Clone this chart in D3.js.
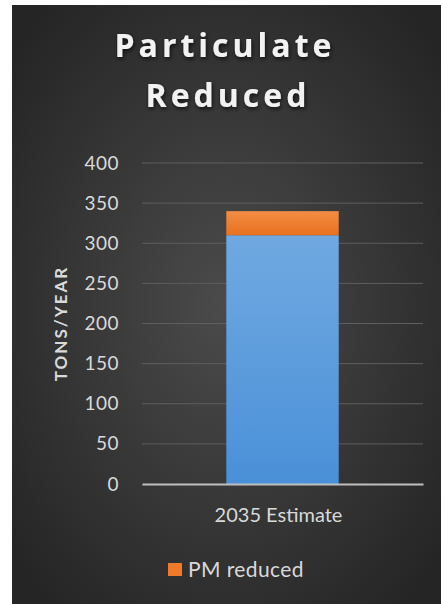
<!DOCTYPE html>
<html lang="en">
<head>
<meta charset="utf-8">
<title>Particulate Reduced</title>
<script src="https://d3js.org/d3.v7.min.js"></script>
<style>
  body { margin: 0; background: #ffffff; }
  text { font-family: Lato, "Open Sans", sans-serif; }
</style>
</head>
<body>
<div id="chart"></div>
<script>
// data
var categories = ["2035 Estimate"];
var baseValues = [310];      // blue part (no legend entry)
var pmReduced = [30];        // orange part, "PM reduced"
var yTicks = [0, 50, 100, 150, 200, 250, 300, 350, 400];
var legendLabels = ["PM reduced"];

var W = 441, H = 604;
var margin = {top: 163, right: 18, bottom: 120, left: 142};

var svg = d3.select("#chart").append("svg")
    .attr("width", W)
    .attr("height", H);

// background: dark radial gradient
var defs = svg.append("defs");
var bg = defs.append("radialGradient").attr("id", "bg")
    .attr("cx", "50%").attr("cy", "50%").attr("r", "65%");
bg.append("stop").attr("offset", "0%").attr("stop-color", "#4b4b4b");
bg.append("stop").attr("offset", "100%").attr("stop-color", "#252525");

var blueGrad = defs.append("linearGradient").attr("id", "blueGrad")
    .attr("x1", 0).attr("y1", 0).attr("x2", 0).attr("y2", 1);
blueGrad.append("stop").attr("offset", "0%").attr("stop-color", "#70a9e1");
blueGrad.append("stop").attr("offset", "100%").attr("stop-color", "#4a90d8");

var orangeGrad = defs.append("linearGradient").attr("id", "orangeGrad")
    .attr("x1", 0).attr("y1", 0).attr("x2", 0).attr("y2", 1);
orangeGrad.append("stop").attr("offset", "0%").attr("stop-color", "#f38d44");
orangeGrad.append("stop").attr("offset", "100%").attr("stop-color", "#e8711f");

var shadow = defs.append("filter").attr("id", "shadow")
    .attr("x", "-10%").attr("y", "-20%").attr("width", "130%").attr("height", "150%");
shadow.append("feDropShadow").attr("dx", 1).attr("dy", 2).attr("stdDeviation", 2)
    .attr("flood-color", "#000").attr("flood-opacity", 0.7);

svg.append("rect")
    .attr("x", 12).attr("y", 5)
    .attr("width", W - 12).attr("height", H - 5)
    .attr("fill", "url(#bg)");

// title
var title = svg.append("text")
    .attr("text-anchor", "middle")
    .attr("fill", "#f2f2f2")
    .style("font-family", "'Open Sans', Lato, sans-serif")
    .attr("font-size", "32px")
    .attr("font-weight", "bold")
    .attr("letter-spacing", "4px")
    .attr("filter", "url(#shadow)");
title.append("tspan").attr("x", 225).attr("y", 57).text("Particulate");
title.append("tspan").attr("x", 228).attr("y", 107).text("Reduced");

var innerW = W - margin.left - margin.right,
    innerH = H - margin.top - margin.bottom;

var g = svg.append("g")
    .attr("transform", "translate(" + margin.left + "," + margin.top + ")");

var x = d3.scaleBand()
    .domain(categories)
    .range([0, innerW])
    .paddingInner(0.6)
    .paddingOuter(0.3);

var y = d3.scaleLinear()
    .domain([0, 400])
    .range([innerH, 0]);

// gridlines
g.append("g")
  .selectAll("line")
  .data(yTicks.filter(function(d){ return d > 0; }))
  .enter()
  .append("line")
    .attr("x1", 0).attr("x2", innerW)
    .attr("y1", function(d){ return y(d); })
    .attr("y2", function(d){ return y(d); })
    .attr("stroke", "#5e5e5e")
    .attr("stroke-width", 1);

// y axis labels
var yAxis = g.append("g")
    .call(d3.axisLeft(y).tickValues(yTicks).tickSize(0).tickPadding(23));
yAxis.select(".domain").remove();
yAxis.selectAll("text")
    .attr("fill", "#d9d9d9")
    .attr("font-size", "19px")
    .attr("letter-spacing", "0.5px");

// y axis title
svg.append("text")
    .attr("transform", "translate(67," + (margin.top + y(200)) + ") rotate(-90)")
    .attr("text-anchor", "middle")
    .attr("fill", "#d9d9d9")
    .attr("font-size", "17px")
    .attr("font-weight", "bold")
    .attr("letter-spacing", "2px")
    .text("TONS/YEAR");

// stacked bar
var stackData = categories.map(function(c, i){
  return {cat: c, base: baseValues[i], pm: pmReduced[i]};
});
var series = d3.stack().keys(["base", "pm"])(stackData);
var fills = {base: "url(#blueGrad)", pm: "url(#orangeGrad)"};

g.append("g")
  .selectAll("g")
  .data(series)
  .enter()
  .append("g")
    .attr("fill", function(s){ return fills[s.key]; })
  .selectAll("rect")
  .data(function(s){ return s; })
  .enter()
  .append("rect")
    .attr("x", function(d){ return x(d.data.cat); })
    .attr("width", x.bandwidth())
    .attr("y", function(d){ return y(d[1]); })
    .attr("height", function(d){ return y(d[0]) - y(d[1]); });

// x axis
var xAxis = g.append("g")
    .attr("transform", "translate(0," + innerH + ")")
    .call(d3.axisBottom(x).tickSize(0).tickPadding(24));
xAxis.select(".domain")
    .attr("stroke", "#bfbfbf")
    .attr("stroke-width", 2);
xAxis.selectAll("text")
    .attr("fill", "#d9d9d9")
    .attr("font-size", "20px")
    .attr("dx", "-4px");

// legend
var legend = svg.append("g").attr("transform", "translate(168,563)");
legend.selectAll("rect")
  .data(legendLabels)
  .enter()
  .append("rect")
    .attr("x", 0).attr("y", 0)
    .attr("width", 14).attr("height", 13)
    .attr("fill", "#ee7a2a");
legend.selectAll("text")
  .data(legendLabels)
  .enter()
  .append("text")
    .attr("x", 20).attr("y", 14)
    .attr("fill", "#d9d9d9")
    .attr("font-size", "21px")
    .attr("letter-spacing", "0.4px")
    .text(function(d){ return d; });
</script>
</body>
</html>
